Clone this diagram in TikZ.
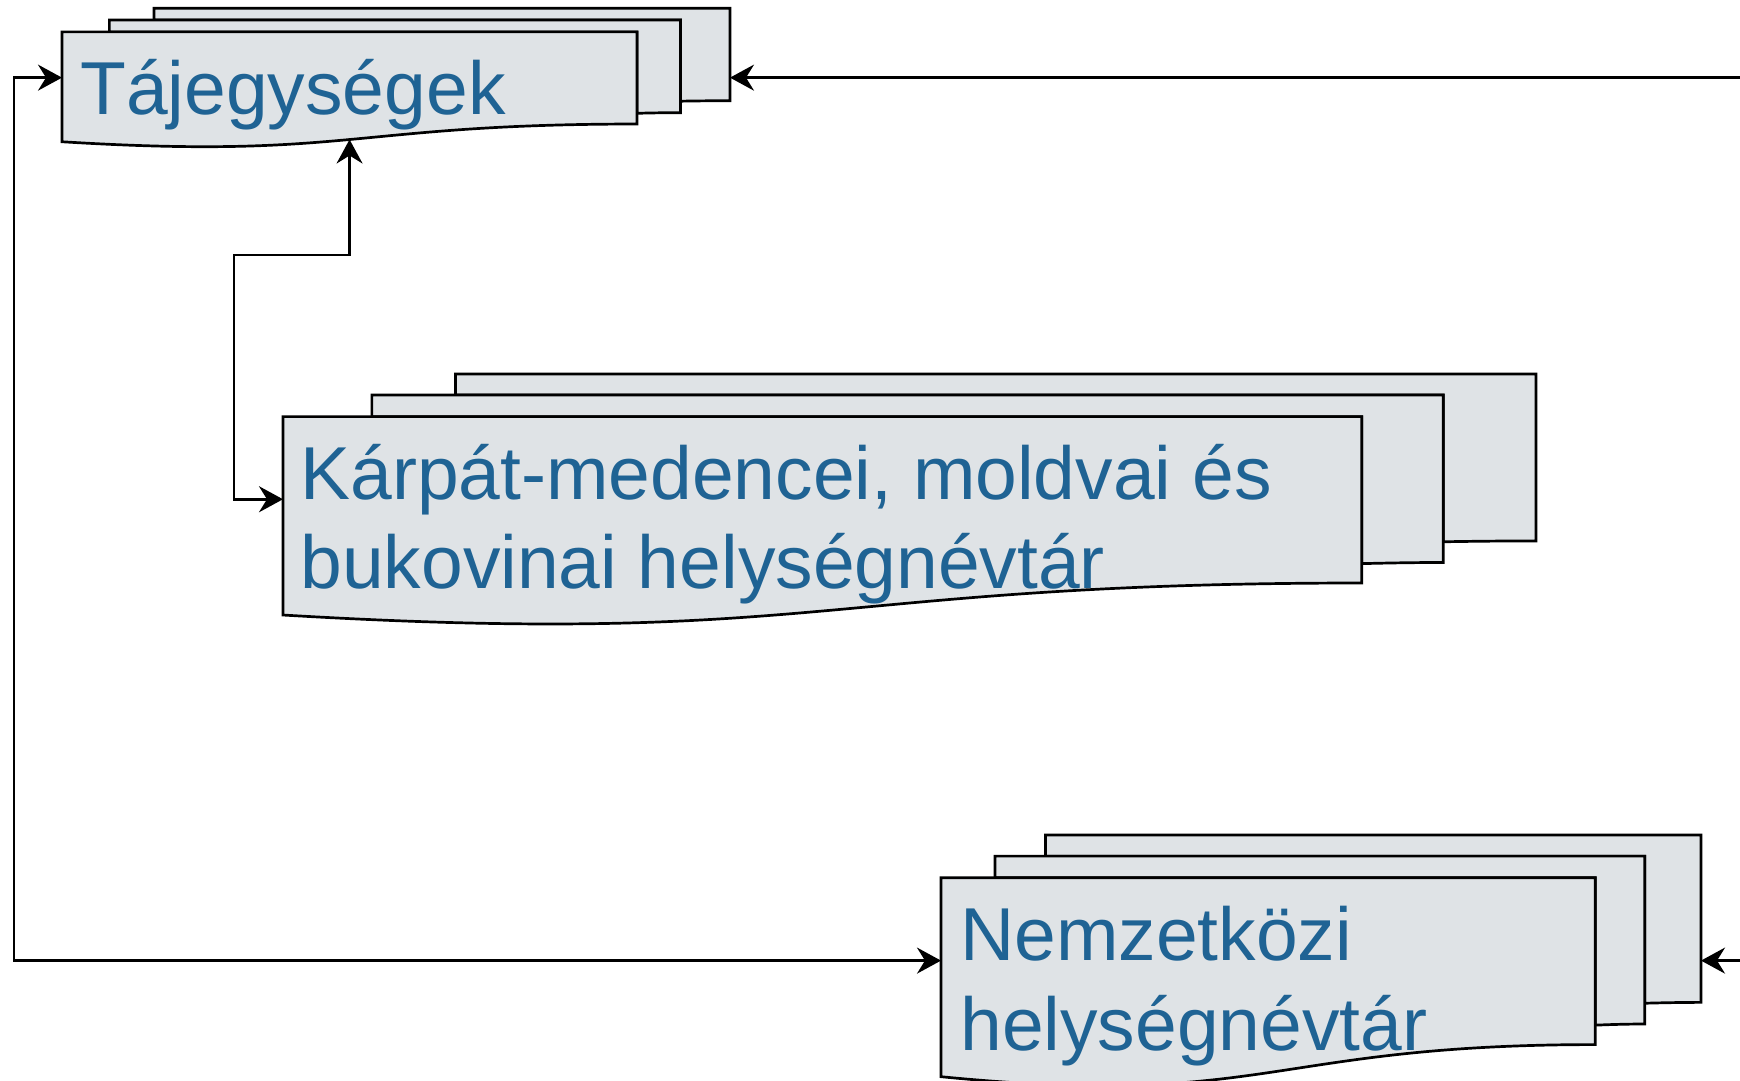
\documentclass[tikz,border=0pt]{standalone}
\usepackage{fontspec}
\setmainfont{Liberation Sans}
\usetikzlibrary{arrows.meta}
\definecolor{docfill}{RGB}{223,227,230}
\definecolor{doctext}{RGB}{31,99,148}
\newcommand\multidoc[5]{%
  \begin{scope}[shift={(#2,#3)}, x=#4, y=#5]
    \filldraw[doc] (0.137593,0.084028) -- (0.137593,0) -- (1,0) -- (1,0.666296)
      .. controls (0.962963,0.666296) and (0.925926,0.669769) .. (0.925926,0.669769)
      -- (0.925926,0.084028) -- cycle;
    \filldraw[doc] (0.070926,0.170139) -- (0.070926,0.084028) -- (0.925926,0.084028) -- (0.925926,0.752407)
      .. controls (0.893426,0.752407) and (0.860880,0.757037) .. (0.860880,0.757037)
      -- (0.860880,0.170139) -- cycle;
    \filldraw[doc] (0,0.170139) -- (0.860880,0.170139) -- (0.860880,0.834352)
      .. controls (0.430463,0.834352) and (0.430463,1.089907) .. (0,0.962130) -- cycle;
    \coordinate (#1-W) at (0,0.5);
    \coordinate (#1-E) at (1,0.5);
    \coordinate (#1-S) at (0.430463,0.946157);
  \end{scope}}
\begin{document}
\begin{tikzpicture}[x=0.5pt,y=-0.5pt,
  doc/.style={draw=black, fill=docfill, line width=1.35pt, line join=miter},
  conn/.style={draw=black, line width=1.25pt, {Stealth[length=12pt,width=13pt,inset=4pt]}-{Stealth[length=12pt,width=13pt,inset=4pt]}},
  oneway/.style={draw=black, line width=1.25pt, -{Stealth[length=12pt,width=13pt,inset=4pt]}},
  lbl/.style={anchor=base west, inner sep=0pt, text=doctext, font=\fontsize{37.5}{45}\selectfont}]
\useasboundingbox (0,0) rectangle (1740,1081);
\clip (0,0) rectangle (1740,1081);

\multidoc{taj}{62}{8.3}{334pt}{-69.35pt}
\multidoc{karp}{283}{374}{626.5pt}{-125.25pt}
\multidoc{nem}{941}{835}{380pt}{-125.6pt}

\node[lbl] (tajtxt) at (80,115) {Tájegységek};
\node[lbl] (karptxta) at (300,499) {Kárpát-medencei, moldvai és};
\node[lbl] (karptxtb) at (300,588) {bukovinai helységnévtár};
\node[lbl] (nemtxta) at (960,960) {Nemzetközi};
\node[lbl] (nemtxtb) at (960,1050) {helységnévtár};

\coordinate (leftrail) at (14,0);
\coordinate (midrail) at (234,255.2);
\coordinate (rightedge) at (1750,0);

\draw[conn] (taj-W) -- (taj-W -| leftrail) -- (nem-W -| leftrail) -- (nem-W);
\draw[conn] (taj-S) -- (taj-S |- midrail) -- (midrail) -- (midrail |- karp-W) -- (karp-W);
\draw[oneway] (rightedge |- taj-E) -- (taj-E);
\draw[oneway] (rightedge |- nem-E) -- (nem-E);
\end{tikzpicture}
\end{document}
